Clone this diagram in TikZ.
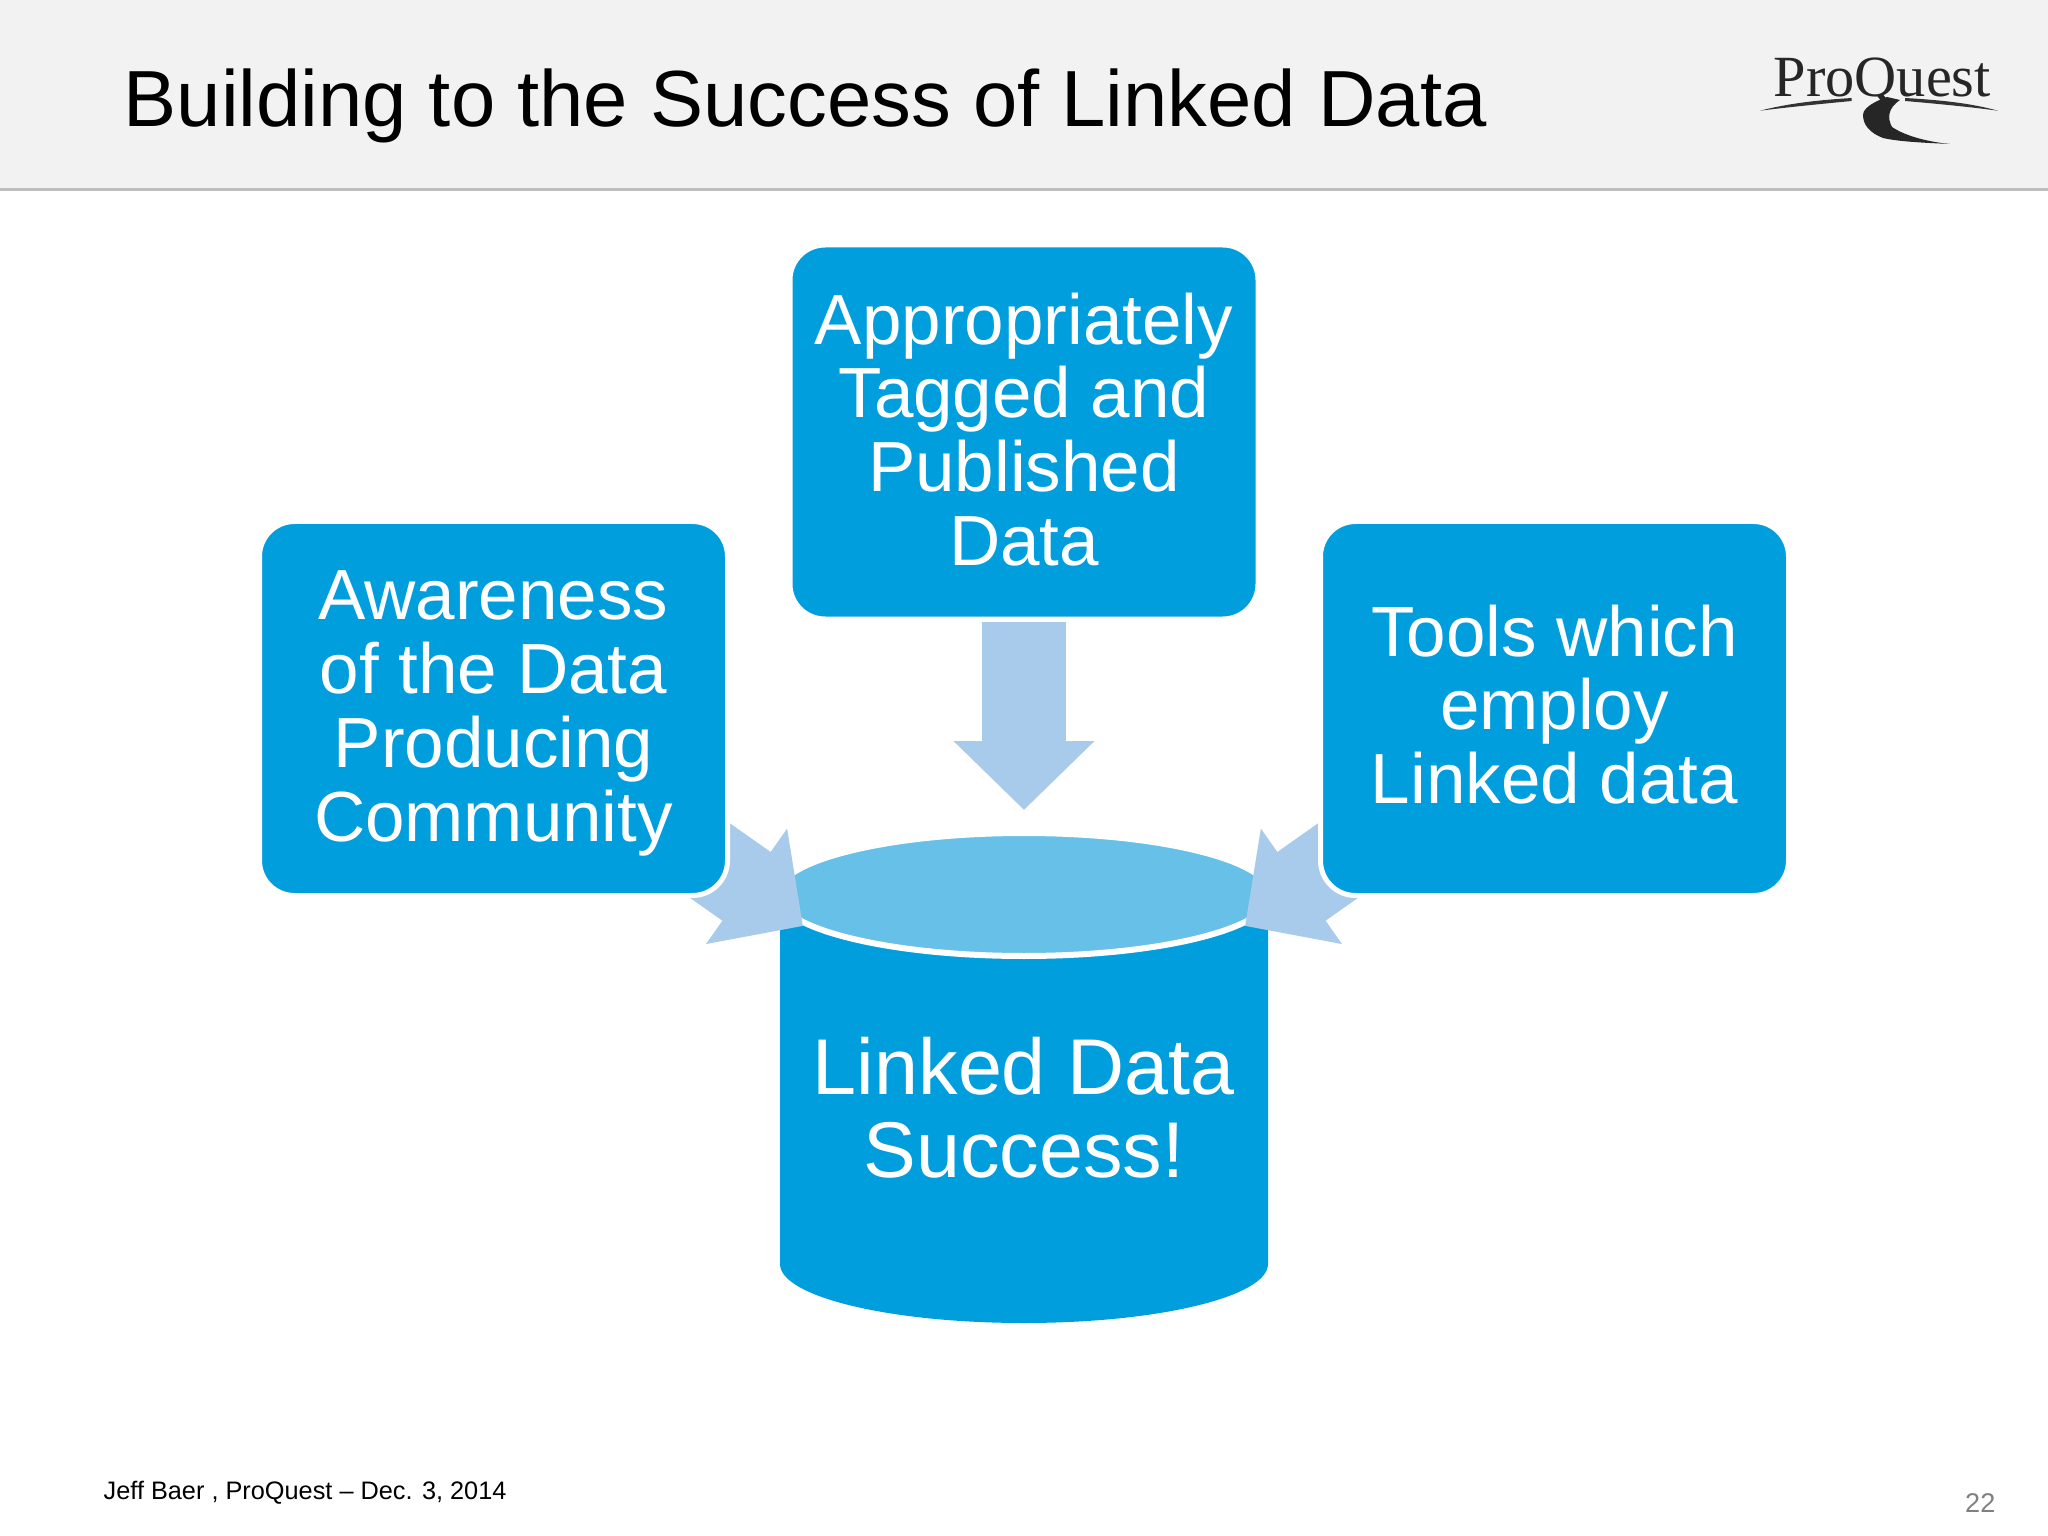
\documentclass[tikz,border=0pt]{standalone}
\usepackage{fontspec}
\setmainfont{Liberation Sans}
\newfontfamily\logofont{Liberation Serif}
\usetikzlibrary{arrows.meta,shapes.geometric,backgrounds}
\definecolor{boxblue}{HTML}{009EDD}
\definecolor{lidblue}{HTML}{67C0E7}
\definecolor{arrowblue}{HTML}{A9CBEB}
\definecolor{barfill}{HTML}{F2F2F2}
\definecolor{barline}{HTML}{BDBDBD}
\tikzset{
  main box/.style={rectangle,rounded corners=0.35cm,fill=boxblue,draw=white,line width=0.05cm,
    minimum width=4.68cm,minimum height=3.74cm},
  box text/.style={text=white,align=center,inner sep=0pt,font=\fontsize{20.2}{21}\selectfont},
  block arrow/.style={arrowblue,line width=0.84cm,-{Triangle[width=1.37cm,length=0.69cm]}}
}
\begin{document}
\begin{tikzpicture}
\useasboundingbox (0,0) rectangle (20.48,-15.36);

% Title bar
\fill[barfill] (0,0) rectangle (20.48,-1.9);
\draw[barline,line width=0.03cm] (0,-1.9) -- (20.48,-1.9);
\node[anchor=base west,inner sep=0pt,font=\fontsize{22.65}{26}\selectfont] (title) at (1.23,-1.27) {Building to the Success of Linked Data};

% Logo
\node[anchor=base west,inner sep=0pt,text=black!85,font=\logofont\fontsize{16.6}{18}\selectfont] (logo) at (17.73,-0.97) {ProQuest};
\fill[black!80] (17.60,-1.107) .. controls (17.90,-1.03) and (18.20,-1.00) .. (18.517,-0.98) -- (18.517,-1.01) .. controls (18.20,-1.04) and (17.90,-1.07) .. cycle;
\fill[black!80] (19.98,-1.107) .. controls (19.70,-1.03) and (19.40,-1.00) .. (19.05,-0.98) -- (19.05,-1.01) .. controls (19.40,-1.04) and (19.70,-1.07) .. cycle;
\fill[black!85] (18.87,-0.97) .. controls (18.65,-1.05) and (18.63,-1.12) .. (18.63,-1.15)
  .. controls (18.63,-1.25) and (18.70,-1.33) .. (18.83,-1.38)
  .. controls (19.00,-1.42) and (19.30,-1.43) .. (19.50,-1.44)
  .. controls (19.30,-1.42) and (19.07,-1.37) .. (18.92,-1.27)
  .. controls (18.87,-1.18) and (18.88,-1.08) .. (19.00,-1.00) -- cycle;

% Boxes
\node[main box] (pubdata) at (10.24,-4.32) {};
\node[main box] (awareness) at (4.935,-7.085) {};
\node[main box] (tools) at (15.545,-7.085) {};
\node[box text] (pubtext) at ([yshift=0.026cm]pubdata.center) {Appropriately\\Tagged and\\Published\\Data};
\node[box text] (awaretext) at ([yshift=-0.05cm]awareness.center) {Awareness\\of the Data\\Producing\\Community};
\node[box text] (toolstext) at ([yshift=0.04cm]tools.center) {Tools which\\employ\\Linked data};

\coordinate (toptip) at (10.24,-8.10);
\coordinate (lefttip) at (8.03,-9.26);
\coordinate (righttip) at (12.45,-9.26);

% Cylinder and arrows go behind the boxes
\begin{scope}[on background layer]
\fill[boxblue] (7.80,-8.94) -- (7.80,-12.64) arc[start angle=180,end angle=360,x radius=2.44cm,y radius=0.59cm] -- (12.68,-8.94) -- cycle;
\node[ellipse,fill=lidblue,draw=white,line width=0.06cm,minimum width=4.94cm,minimum height=1.23cm,inner sep=0pt] (lid) at (10.24,-8.945) {};
\draw[block arrow] (pubdata.south) -- (toptip);
\draw[block arrow] (awareness.center) -- (lefttip);
\draw[block arrow] (tools.center) -- (righttip);
\end{scope}

\node[text=white,align=center,inner sep=0pt,font=\fontsize{22.5}{23.6}\selectfont] (success) at (10.24,-11.08) {Linked Data\\Success!};

% Footer
\node[anchor=base west,inner sep=0pt,font=\fontsize{7.2}{8}\selectfont] (footer) at (1.03,-14.99) {Jeff Baer , ProQuest -- Dec. 3, 2014};
\node[anchor=base east,inner sep=0pt,text=black!50,font=\fontsize{7.7}{9}\selectfont] (pagenum) at (19.96,-15.12) {22};
\end{tikzpicture}
\end{document}
